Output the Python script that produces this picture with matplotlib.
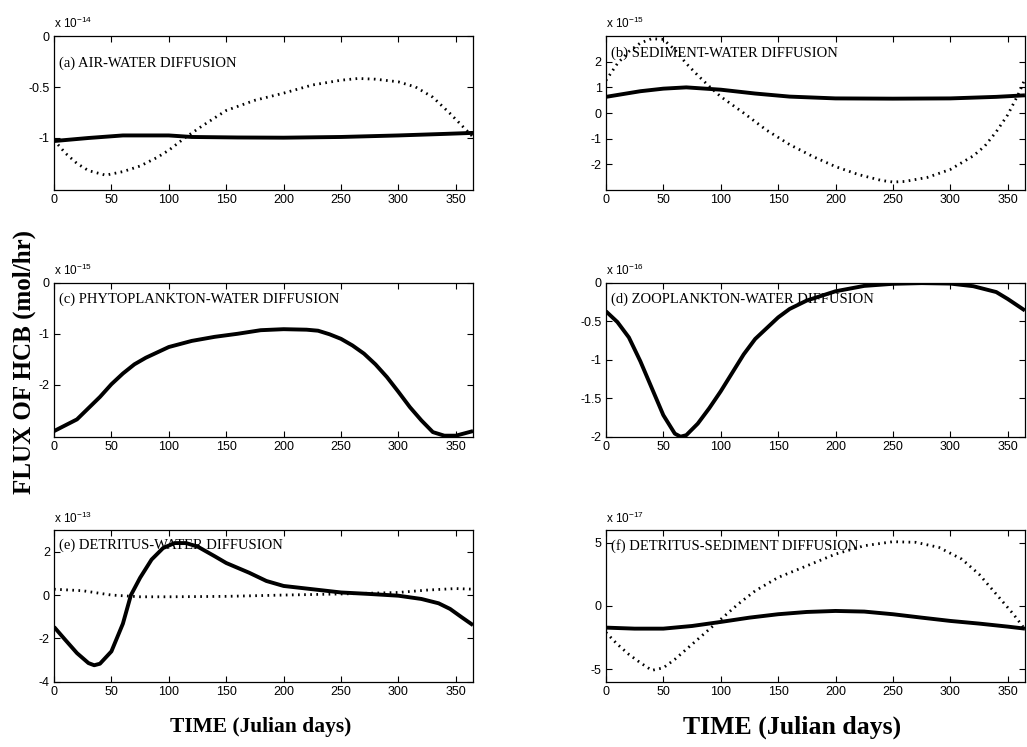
# -*- coding: utf-8 -*-
"""
HCB flux panels (six diffusion processes) vs. Julian day.
Values are kept in the units of each panel's "x 10^n" multiplier.
"""

import matplotlib
matplotlib.use("Agg")
import matplotlib.pyplot as plt
from matplotlib.ticker import FuncFormatter

plt.rcParams['axes.unicode_minus'] = False
plt.rcParams['mathtext.default'] = 'regular'

# (a) air-water diffusion, x 1e-14
a_solid_days = [0, 30, 60, 100, 120, 160, 200, 250, 300, 340, 365]
a_solid = [-1.03, -1.0, -0.975, -0.975, -0.99, -0.995, -0.997, -0.99, -0.975, -0.96, -0.95]
a_dot_days = [0, 10, 20, 30, 45, 60, 75, 90, 100, 115, 130, 150, 175, 200, 225,
              250, 265, 280, 300, 315, 330, 345, 355, 365]
a_dot = [-1.02, -1.15, -1.25, -1.32, -1.365, -1.33, -1.275, -1.19, -1.12, -0.99,
         -0.875, -0.73, -0.63, -0.56, -0.48, -0.433, -0.416, -0.423, -0.449, -0.5,
         -0.6, -0.76, -0.875, -0.99]

# (b) sediment-water diffusion, x 1e-15
b_solid_days = [0, 30, 50, 70, 100, 130, 160, 200, 250, 300, 340, 365]
b_solid = [0.63, 0.85, 0.95, 1.0, 0.91, 0.76, 0.64, 0.57, 0.56, 0.57, 0.63, 0.69]
b_dot_days = [0, 10, 20, 30, 40, 50, 60, 70, 80, 90, 100, 120, 140, 160, 180, 200,
              220, 240, 250, 260, 280, 300, 320, 330, 340, 350, 360, 365]
b_dot = [1.27, 1.93, 2.4, 2.73, 2.9, 2.87, 2.47, 1.93, 1.47, 1.04, 0.64, 0.0,
         -0.67, -1.23, -1.69, -2.09, -2.4, -2.63, -2.69, -2.67, -2.51, -2.2,
         -1.67, -1.29, -0.73, -0.07, 0.8, 1.33]

# (c) phytoplankton-water diffusion, x 1e-15
c_days = [0, 20, 40, 50, 60, 70, 80, 100, 120, 140, 160, 180, 200, 220, 230, 240,
          250, 260, 270, 280, 290, 300, 310, 320, 330, 340, 350, 365]
c_solid = [-2.91, -2.68, -2.24, -1.99, -1.78, -1.6, -1.47, -1.26, -1.14, -1.06,
           -1.0, -0.93, -0.91, -0.92, -0.94, -1.01, -1.1, -1.23, -1.39, -1.6,
           -1.85, -2.14, -2.44, -2.7, -2.93, -3.0, -3.0, -2.91]

# (d) zooplankton-water diffusion, x 1e-16
d_days = [0, 10, 20, 30, 40, 50, 60, 65, 70, 80, 90, 100, 110, 120, 130, 140, 150,
          160, 175, 200, 225, 250, 275, 300, 320, 340, 350, 365]
d_solid = [-0.37, -0.51, -0.71, -1.02, -1.37, -1.72, -1.96, -2.0, -1.98, -1.83,
           -1.63, -1.41, -1.17, -0.93, -0.73, -0.59, -0.45, -0.34, -0.23, -0.11,
           -0.04, -0.013, -0.004, -0.01, -0.044, -0.12, -0.21, -0.36]

# (e) detritus-water diffusion, x 1e-13
e_solid_days = [0, 10, 20, 30, 35, 40, 50, 60, 67, 75, 85, 95, 105, 115, 125, 140,
                150, 170, 185, 200, 225, 250, 275, 300, 320, 335, 345, 355, 365]
e_solid = [-1.47, -2.08, -2.68, -3.14, -3.24, -3.17, -2.6, -1.32, 0.0, 0.8, 1.64,
           2.17, 2.4, 2.4, 2.24, 1.79, 1.48, 1.03, 0.65, 0.42, 0.27, 0.12, 0.05,
           -0.03, -0.18, -0.38, -0.64, -1.02, -1.39]
e_dot_days = [0, 25, 50, 75, 100, 150, 200, 250, 300, 325, 350, 365]
e_dot = [0.27, 0.2, 0.0, -0.08, -0.08, -0.06, 0.0, 0.05, 0.12, 0.23, 0.3, 0.27]

# (f) detritus-sediment diffusion, x 1e-17
f_solid_days = [0, 25, 50, 75, 100, 125, 150, 175, 200, 225, 250, 275, 300, 325,
                350, 365]
f_solid = [-1.72, -1.8, -1.8, -1.59, -1.27, -0.93, -0.66, -0.48, -0.4, -0.45,
           -0.66, -0.93, -1.19, -1.4, -1.64, -1.8]
f_dot_days = [0, 10, 20, 30, 40, 50, 60, 75, 90, 100, 115, 130, 150, 175, 200,
              225, 250, 270, 290, 310, 325, 340, 355, 365]
f_dot = [-2.1, -3.04, -3.84, -4.5, -5.1, -4.9, -4.23, -3.04, -1.85, -1.06, 0.13,
         1.19, 2.25, 3.17, 4.1, 4.76, 5.08, 5.03, 4.63, 3.7, 2.51, 0.93, -0.66,
         -1.85]

PANEL_TITLES = ["(a) AIR-WATER DIFFUSION", "(b) SEDIMENT-WATER DIFFUSION",
                "(c) PHYTOPLANKTON-WATER DIFFUSION",
                "(d) ZOOPLANKTON-WATER DIFFUSION",
                "(e) DETRITUS-WATER DIFFUSION",
                "(f) DETRITUS-SEDIMENT DIFFUSION"]
EXPONENTS = [-14, -15, -15, -16, -13, -17]
Y_LIMITS = [(-1.51, 0), (-3, 3), (-3.02, 0), (-2, 0), (-4, 3), (-6, 6)]
Y_TICKS = [[-1, -0.5, 0], [-2, -1, 0, 1, 2], [-2, -1, 0],
           [-2, -1.5, -1, -0.5, 0], [-4, -2, 0, 2], [-5, 0, 5]]
X_TICKS = [0, 50, 100, 150, 200, 250, 300, 350]

SERIF = "Liberation Serif"
SANS = "Liberation Sans"


def style_axis(ax, idx, title_y):
    ax.set_xlim(0, 365)
    ax.set_ylim(*Y_LIMITS[idx])
    ax.set_xticks(X_TICKS)
    ax.set_yticks(Y_TICKS[idx])
    ax.yaxis.set_major_formatter(FuncFormatter(lambda v, p: "%g" % v))
    ax.tick_params(direction="in", top=True, right=True, length=4,
                   width=0.8, labelsize=9, pad=3)
    for lab in ax.get_xticklabels() + ax.get_yticklabels():
        lab.set_fontfamily(SANS)
    for sp in ax.spines.values():
        sp.set_linewidth(0.9)
    ax.text(0.012, title_y, PANEL_TITLES[idx], transform=ax.transAxes,
            fontsize=10.5, fontfamily=SERIF, va="center", ha="left")
    ax.text(0.0, 1.03, "x 10$^{%d}$" % EXPONENTS[idx], transform=ax.transAxes,
            fontsize=8.5, fontfamily=SANS, va="bottom", ha="left")


def main():
    fig = plt.figure(figsize=(10.27, 7.47), dpi=100)

    lefts = [0.0526, 0.590]
    width = 0.408
    bottoms = [0.7457, 0.4154, 0.0874]
    heights = [0.206, 0.206, 0.203]

    axes = []
    for r in range(3):
        for c in range(2):
            axes.append(fig.add_axes([lefts[c], bottoms[r], width, heights[r]]))

    solid_kw = dict(color="black", linewidth=2.8, solid_capstyle="butt")
    dot_kw = dict(color="black", linewidth=2.0, linestyle=(0, (0.6, 1.6)))

    ax = axes[0]
    ax.plot(a_dot_days, a_dot, **dot_kw)
    ax.plot(a_solid_days, a_solid, **solid_kw)
    style_axis(ax, 0, 0.825)

    ax = axes[1]
    ax.plot(b_dot_days, b_dot, **dot_kw)
    ax.plot(b_solid_days, b_solid, **solid_kw)
    style_axis(ax, 1, 0.89)

    ax = axes[2]
    ax.plot(c_days, c_solid, **solid_kw)
    style_axis(ax, 2, 0.89)

    ax = axes[3]
    ax.plot(d_days, d_solid, **solid_kw)
    style_axis(ax, 3, 0.89)

    ax = axes[4]
    ax.plot(e_dot_days, e_dot, **dot_kw)
    ax.plot(e_solid_days, e_solid, **solid_kw)
    style_axis(ax, 4, 0.897)

    ax = axes[5]
    ax.plot(f_dot_days, f_dot, **dot_kw)
    ax.plot(f_solid_days, f_solid, **solid_kw)
    style_axis(ax, 5, 0.897)

    fig.text(0.024, 0.516, "FLUX OF HCB (mol/hr)", rotation=90, fontsize=18,
             fontweight="bold", fontfamily=SERIF, ha="center", va="center")
    fig.text(261 / 1027, 1 - 727 / 747, "TIME (Julian days)", fontsize=15.5,
             fontweight="bold", fontfamily=SERIF, ha="center", va="center")
    fig.text(792 / 1027, 1 - 727 / 747, "TIME (Julian days)", fontsize=18.5,
             fontweight="bold", fontfamily=SERIF, ha="center", va="center")

    fig.savefig("out.png", dpi=100)


if __name__ == "__main__":
    main()
